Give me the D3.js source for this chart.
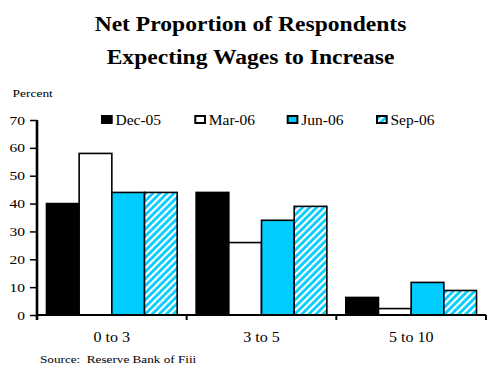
<!DOCTYPE html>
<html>
<head>
<meta charset="utf-8">
<script src="https://cdn.jsdelivr.net/npm/d3@7"></script>
<style>
  html, body { margin: 0; padding: 0; background: #fff; }
  svg { display: block; }
  text { font-family: "Liberation Serif", "Times New Roman", serif; fill: #000; }
</style>
</head>
<body>
<script>
// Wage expectations survey: net % of respondents expecting increases, by range
const categories = ["0 to 3", "3 to 5", "5 to 10"];
const seriesNames = ["Dec-05", "Mar-06", "Jun-06", "Sep-06"];
const dec05 = [40, 44, 6.3];
const mar06 = [58, 26, 2.3];
const jun06 = [44, 34, 11.7];
const sep06 = [44, 39, 8.8];
const yTicks = [0, 10, 20, 30, 40, 50, 60, 70];

const seriesValues = [dec05, mar06, jun06, sep06];
const W = 487, H = 366;
const plot = { left: 37, right: 486, top: 120, bottom: 315 };
const cyan = "#00CCFF";

const svg = d3.select("body").append("svg").attr("width", W).attr("height", H);

// Text set in a horizontally widened serif face
function wideText(parent, x, y, size, k, str, anchor) {
  return parent.append("text")
    .attr("transform", `translate(${x},${y}) scale(${k},1)`)
    .attr("font-size", size)
    .attr("text-anchor", anchor || "start")
    .attr("xml:space", "preserve")
    .text(str);
}

// hatch pattern: cyan with white diagonal stripes
const defs = svg.append("defs");
const pat = defs.append("pattern")
  .attr("id", "hatch")
  .attr("patternUnits", "userSpaceOnUse")
  .attr("width", 5).attr("height", 5)
  .attr("patternTransform", "rotate(45)");
pat.append("rect").attr("width", 5).attr("height", 5).attr("fill", cyan);
pat.append("rect").attr("x", 0).attr("y", 0).attr("width", 2.2).attr("height", 5).attr("fill", "#fff");

const fills = ["#000", "#fff", cyan, "url(#hatch)"];

// Title
wideText(svg, 250.5, 30.5, 20.5, 1.15, "Net Proportion of Respondents", "middle").attr("font-weight", "bold");
wideText(svg, 250.5, 63.5, 20.5, 1.15, "Expecting Wages to Increase", "middle").attr("font-weight", "bold");

wideText(svg, 12.5, 96.5, 10.6, 1.27, "Percent");

// Scales
const x0 = d3.scaleBand().domain(categories).range([plot.left, plot.right]).padding(0);
const x1 = d3.scaleBand().domain(seriesNames).range([0, x0.bandwidth()])
  .paddingInner(0).paddingOuter(0.29);
const y = d3.scaleLinear().domain([0, 70]).range([plot.bottom, plot.top]);

// Bars
const groups = svg.append("g").selectAll("g")
  .data(categories)
  .join("g")
  .attr("transform", d => `translate(${x0(d)},0)`);

groups.selectAll("rect")
  .data((c, ci) => seriesNames.map((s, si) => ({ s, si, v: seriesValues[si][ci] })))
  .join("rect")
  .attr("x", d => x1(d.s))
  .attr("y", d => y(d.v))
  .attr("width", x1.bandwidth())
  .attr("height", d => y(0) - y(d.v))
  .attr("fill", d => fills[d.si])
  .attr("stroke", "#000")
  .attr("stroke-width", 1.6);

// Y axis
const yAxis = d3.axisLeft(y).tickValues(yTicks).tickSize(7).tickFormat(() => "");
const gy = svg.append("g").attr("transform", `translate(${plot.left},0)`).call(yAxis);
gy.select(".domain").attr("stroke", "#000").attr("stroke-width", 2.6).attr("d", `M0,${plot.top}V${plot.bottom + 5}`);
gy.selectAll(".tick line").attr("stroke", "#000").attr("stroke-width", 1.5);
gy.selectAll(".tick").each(function (d) {
  wideText(d3.select(this), -12, 4, 11.5, 1.35, d3.format("d")(d), "end");
});

// X axis (category boundaries carry the ticks)
const gx = svg.append("g").attr("transform", `translate(0,${plot.bottom})`);
gx.call(d3.axisBottom(x0).tickSize(0).tickFormat(() => ""));
gx.select(".domain").attr("stroke", "#000").attr("stroke-width", 2.2).attr("d", `M${plot.left},0H${plot.right}`);
gx.selectAll(".tick").each(function (d) {
  wideText(d3.select(this), 0, 26.5, 13.6, 1.18, d, "middle");
});
const boundaries = categories.map(c => x0(c)).concat([x0(categories[categories.length - 1]) + x0.bandwidth()]);
gx.selectAll("line.bound")
  .data(boundaries)
  .join("line")
  .attr("class", "bound")
  .attr("x1", d => d).attr("x2", d => d)
  .attr("y1", 0).attr("y2", 5)
  .attr("stroke", "#000").attr("stroke-width", 2);

// Legend
const legendX = [101, 194.3, 286.7, 376];
const legend = svg.append("g").selectAll("g")
  .data(seriesNames)
  .join("g")
  .attr("transform", (d, i) => `translate(${legendX[i]},115)`);
legend.append("rect")
  .attr("x", 1).attr("y", 1).attr("width", 9.7).attr("height", 7)
  .attr("fill", (d, i) => fills[i])
  .attr("stroke", "#000").attr("stroke-width", 2);
legend.each(function (d) {
  wideText(d3.select(this), 14.5, 10, 13.6, 1.14, d);
});

// Source note
wideText(svg, 40, 362.5, 11, 1.2, "Source:  Reserve Bank of Fiii");
</script>
</body>
</html>
